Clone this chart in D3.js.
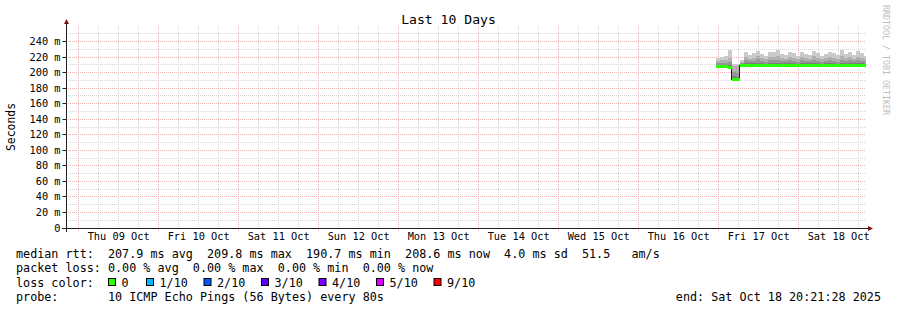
<!DOCTYPE html>
<html>
<head>
<meta charset="utf-8">
<script src="https://cdn.jsdelivr.net/npm/d3@7"></script>
<style>
  body { margin: 0; background: #fff; }
  text { font-family: "DejaVu Sans Mono", monospace; fill: #000; white-space: pre; }
</style>
</head>
<body>
<div id="chart"></div>
<script>
// time window of the graph (UTC so the browser zone does not matter)
const startTime = new Date(Date.UTC(2025, 9, 8, 20, 21, 28));
const endTime = new Date(Date.UTC(2025, 9, 18, 20, 21, 28));
const dataStart = new Date(Date.UTC(2025, 9, 16, 23, 20, 0));
const binMinutes = 72;

// median rtt per bin (ms)
const medianMs = [
  207.6, 207.8, 207.4, 206.0, 191.0, 190.7,
  209.2, 209.5, 209.1, 209.6, 209.3, 209.0, 209.4, 209.7,
  209.2, 209.5, 209.1, 209.6, 209.8, 209.3, 209.0, 209.4,
  209.5, 209.2, 209.6, 209.1, 209.3, 209.7, 209.4, 209.0,
  209.5, 209.2, 209.6, 209.3, 209.1, 209.4, 208.9, 208.6
];
// sorted pings: lowest, 7th, 8th, 9th, 10th (smoke)
const pingLow = [
  206.8, 207.0, 206.6, 205.2, 190.2, 189.9,
  208.4, 208.7, 208.3, 208.8, 208.5, 208.2, 208.6, 208.9,
  208.4, 208.7, 208.3, 208.8, 209.0, 208.5, 208.2, 208.6,
  208.7, 208.4, 208.8, 208.3, 208.5, 208.9, 208.6, 208.2,
  208.7, 208.4, 208.8, 208.5, 208.3, 208.6, 208.1, 207.8
];
const ping7 = [
  210.0, 210.2, 210.0, 209.5, 196.0, 195.0,
  211.5, 212.5, 212.0, 212.2, 213.0, 212.0, 211.6, 212.5,
  212.0, 212.5, 212.0, 212.1, 213.0, 212.0, 211.6, 212.5,
  212.0, 212.2, 212.5, 212.0, 211.6, 212.0, 212.5, 212.0,
  211.6, 212.5, 212.0, 212.5, 212.0, 212.5, 212.0, 211.6
];
const ping8 = [
  212.0, 212.5, 212.0, 214.0, 201.0, 200.0,
  213.0, 216.0, 215.0, 215.2, 217.0, 215.0, 214.2, 216.0,
  216.0, 216.3, 215.0, 215.2, 216.0, 215.0, 214.2, 216.0,
  215.0, 215.2, 216.0, 215.0, 214.2, 215.0, 216.0, 215.0,
  214.2, 216.0, 215.0, 216.0, 215.0, 216.0, 215.0, 214.2
];
const ping9 = [
  215.0, 216.0, 216.0, 219.0, 208.5, 208.0,
  214.0, 220.0, 218.0, 219.0, 221.0, 219.0, 218.0, 220.0,
  220.0, 221.0, 219.0, 218.0, 220.0, 219.0, 218.0, 220.0,
  219.0, 218.0, 221.0, 219.0, 218.0, 219.0, 220.0, 219.0,
  218.0, 221.0, 219.0, 220.0, 218.0, 220.0, 219.0, 218.0
];
const ping10 = [
  219.0, 220.0, 221.0, 229.0, 211.0, 211.0,
  216.0, 226.0, 223.0, 225.0, 228.0, 224.0, 222.0, 227.0,
  226.0, 229.0, 224.0, 223.0, 226.0, 225.0, 222.0, 227.0,
  224.0, 223.0, 228.0, 225.0, 222.0, 224.0, 227.0, 225.0,
  223.0, 229.0, 224.0, 226.0, 223.0, 228.0, 225.0, 222.0
];
// lost pings per bin (out of 10)
const lossCount = [
  0, 0, 0, 0, 0, 0, 0, 0, 0, 0, 0, 0, 0, 0, 0, 0, 0, 0, 0,
  0, 0, 0, 0, 0, 0, 0, 0, 0, 0, 0, 0, 0, 0, 0, 0, 0, 0, 0
];

const yTicks = [0, 20, 40, 60, 80, 100, 120, 140, 160, 180, 200, 220, 240];
const dayLabels = ["Thu 09 Oct", "Fri 10 Oct", "Sat 11 Oct", "Sun 12 Oct", "Mon 13 Oct",
  "Tue 14 Oct", "Wed 15 Oct", "Thu 16 Oct", "Fri 17 Oct", "Sat 18 Oct"];

const rttStats = [207.9, 209.8, 190.7, 208.6];
const rttSd = 4.0;
const rttAmps = 51.5;
const lossStats = [0, 0, 0, 0];
const lossLabels = ["0", "1/10", "2/10", "3/10", "4/10", "5/10", "9/10"];
const lossLevels = [0, 1, 2, 3, 4, 5, 10];
const lossColors = ["#26ff00", "#00b8ff", "#0059ff", "#5e00ff", "#7e00ff", "#dd00ff", "#ff0000"];
const smokeColors = ["#cacaca", "#b0b0b0", "#969696", "#7c7c7c"];

const width = 897;
const height = 310;
const plot = { left: 66, right: 866, top: 26, bottom: 228 };

const x = d3.scaleUtc().domain([startTime, endTime]).range([plot.left, plot.right]);
const y = d3.scaleLinear().domain([0, 260]).range([plot.bottom, plot.top]);
const px = v => Math.floor(v) + 0.5;

const svg = d3.select("#chart").append("svg")
  .attr("width", width)
  .attr("height", height);

svg.append("rect").attr("width", width).attr("height", height).attr("fill", "#fff");

// grid
const grid = svg.append("g").attr("stroke-dasharray", "1,1").attr("stroke-width", 1);
const minorY = d3.range(10, 260, 10).filter(v => v % 20 !== 0);
grid.selectAll(".hmin").data(minorY).enter().append("line")
  .attr("x1", plot.left).attr("x2", plot.right)
  .attr("y1", d => px(y(d))).attr("y2", d => px(y(d)))
  .attr("stroke", "#d6d6d6");
const midnights = d3.utcDay.range(d3.utcDay.ceil(startTime), endTime);
const sixHours = d3.utcHour.every(6).range(startTime, endTime).filter(d => d.getUTCHours() !== 0);
grid.selectAll(".vmin").data(sixHours).enter().append("line")
  .attr("x1", d => px(x(d))).attr("x2", d => px(x(d)))
  .attr("y1", plot.top).attr("y2", plot.bottom)
  .attr("stroke", "#d6d6d6");
grid.selectAll(".hmaj").data(yTicks.filter(v => v > 0)).enter().append("line")
  .attr("x1", plot.left).attr("x2", plot.right)
  .attr("y1", d => px(y(d))).attr("y2", d => px(y(d)))
  .attr("stroke", "#f0b4b4");
grid.selectAll(".vmaj").data(midnights).enter().append("line")
  .attr("x1", d => px(x(d))).attr("x2", d => px(x(d)))
  .attr("y1", plot.top).attr("y2", plot.bottom + 3)
  .attr("stroke", "#f0b4b4");

// bins
const binTimes = medianMs.map((d, i) => d3.utcMinute.offset(dataStart, i * binMinutes));
const binEnds = binTimes.map((t, i) => i < binTimes.length - 1 ? binTimes[i + 1] : endTime);
const stepPts = arr => arr.map((v, i) => ({ t: binTimes[i], v, lo: pingLow[i] }))
  .concat([{ t: endTime, v: arr[arr.length - 1], lo: pingLow[pingLow.length - 1] }]);

const smokeArea = d3.area()
  .curve(d3.curveStepAfter)
  .x(d => x(d.t))
  .y0(d => y(d.lo))
  .y1(d => y(d.v));

const data = svg.append("g").attr("shape-rendering", "crispEdges");
[ping10, ping9, ping8, ping7].forEach((arr, i) => {
  data.append("path")
    .attr("d", smokeArea(stepPts(arr)))
    .attr("fill", smokeColors[i]);
});

const medLine = d3.line()
  .curve(d3.curveStepAfter)
  .x(d => x(d.t))
  .y(d => px(y(d.v)));
data.append("path")
  .attr("d", medLine(stepPts(medianMs)))
  .attr("fill", "none")
  .attr("stroke", "#202020")
  .attr("stroke-width", 1);

const lossColor = n => lossColors[lossLevels.findIndex((l, k) => n <= l || k === lossLevels.length - 1)];
data.selectAll(".seg").data(medianMs).enter().append("line")
  .attr("x1", (d, i) => x(binTimes[i]))
  .attr("x2", (d, i) => x(binEnds[i]))
  .attr("y1", d => px(y(d)))
  .attr("y2", d => px(y(d)))
  .attr("stroke", (d, i) => lossColor(lossCount[i]))
  .attr("stroke-width", 3);

// axes
const axisColor = "#202020";
const arrowColor = "#801010";
svg.append("line")
  .attr("x1", plot.left - 4).attr("x2", plot.right + 3)
  .attr("y1", plot.bottom + 0.5).attr("y2", plot.bottom + 0.5)
  .attr("stroke", axisColor);
svg.append("line")
  .attr("x1", plot.left + 0.5).attr("x2", plot.left + 0.5)
  .attr("y1", plot.bottom + 4).attr("y2", plot.top - 3)
  .attr("stroke", axisColor);
svg.append("path")
  .attr("d", `M${plot.right + 2},${plot.bottom - 2} L${plot.right + 7},${plot.bottom + 0.5} L${plot.right + 2},${plot.bottom + 3} Z`)
  .attr("fill", arrowColor);
svg.append("path")
  .attr("d", `M${plot.left - 2},${plot.top - 2} L${plot.left + 0.5},${plot.top - 7} L${plot.left + 3},${plot.top - 2} Z`)
  .attr("fill", arrowColor);

const yAxis = d3.axisLeft(y)
  .tickValues(yTicks)
  .tickSize(4)
  .tickPadding(2)
  .tickFormat(d => d === 0 ? "0" : d + " m");
const yG = svg.append("g")
  .attr("transform", `translate(${plot.left + 0.5},0)`)
  .call(yAxis);
yG.select(".domain").remove();
yG.selectAll(".tick").attr("transform", d => `translate(0,${px(y(d))})`);
yG.selectAll(".tick line").attr("stroke", axisColor);
yG.selectAll(".tick text")
  .attr("font-family", "DejaVu Sans Mono")
  .attr("font-size", "10.3px")
  .attr("fill", "#000");

const noons = dayLabels.map((d, i) => d3.utcHour.offset(midnights[i], 12));
const xAxis = d3.axisBottom(x)
  .tickValues(noons)
  .tickSize(0)
  .tickPadding(5)
  .tickFormat((d, i) => dayLabels[i]);
const xG = svg.append("g")
  .attr("transform", `translate(0,${plot.bottom})`)
  .call(xAxis);
xG.select(".domain").remove();
xG.selectAll(".tick text")
  .attr("font-family", "DejaVu Sans Mono")
  .attr("font-size", "10.3px")
  .attr("fill", "#000");

// titles
svg.append("text")
  .attr("x", width / 2)
  .attr("y", 24)
  .attr("text-anchor", "middle")
  .attr("font-size", "13.1px")
  .text("Last 10 Days");

svg.append("text")
  .attr("transform", `translate(15,${(plot.top + plot.bottom) / 2}) rotate(-90)`)
  .attr("text-anchor", "middle")
  .attr("font-size", "11.4px")
  .text("Seconds");

svg.append("text")
  .attr("transform", "translate(883,5) rotate(90)")
  .attr("font-size", "8.3px")
  .style("fill", "#bdbdbd")
  .text("RRDTOOL / TOBI OETIKER");

// legend
const legendFont = "11.75px";
const f1 = d3.format(".1f");
const f2 = d3.format(".2f");
const legend = svg.append("g").attr("font-size", legendFont);
const rttLine = `median rtt:  ${f1(rttStats[0])} ms avg  ${f1(rttStats[1])} ms max  ${f1(rttStats[2])} ms min  ${f1(rttStats[3])} ms now  ${f1(rttSd)} ms sd  ${f1(rttAmps)}   am/s`;
const lossLine = `packet loss: ${f2(lossStats[0])} % avg  ${f2(lossStats[1])} % max  ${f2(lossStats[2])} % min  ${f2(lossStats[3])} % now`;
legend.append("text").attr("x", 16).attr("y", 258).text(rttLine);
legend.append("text").attr("x", 16).attr("y", 272.4).text(lossLine);
legend.append("text").attr("x", 16).attr("y", 286.6).text("loss color:");
legend.append("text").attr("x", 16).attr("y", 300.6).text("probe:       10 ICMP Echo Pings (56 Bytes) every 80s");
legend.append("text").attr("x", 881).attr("y", 300.6).attr("text-anchor", "end").text("end: Sat Oct 18 20:21:28 2025");

let lx = 108;
lossLabels.forEach((lab, i) => {
  legend.append("rect")
    .attr("x", lx + 0.5).attr("y", 278.5)
    .attr("width", 7).attr("height", 7)
    .attr("fill", lossColors[i])
    .attr("stroke", "#000");
  legend.append("text").attr("x", lx + 13.5).attr("y", 286.6).text(lab);
  lx += 31.5 + lab.length * 6.5;
});
</script>
</body>
</html>
